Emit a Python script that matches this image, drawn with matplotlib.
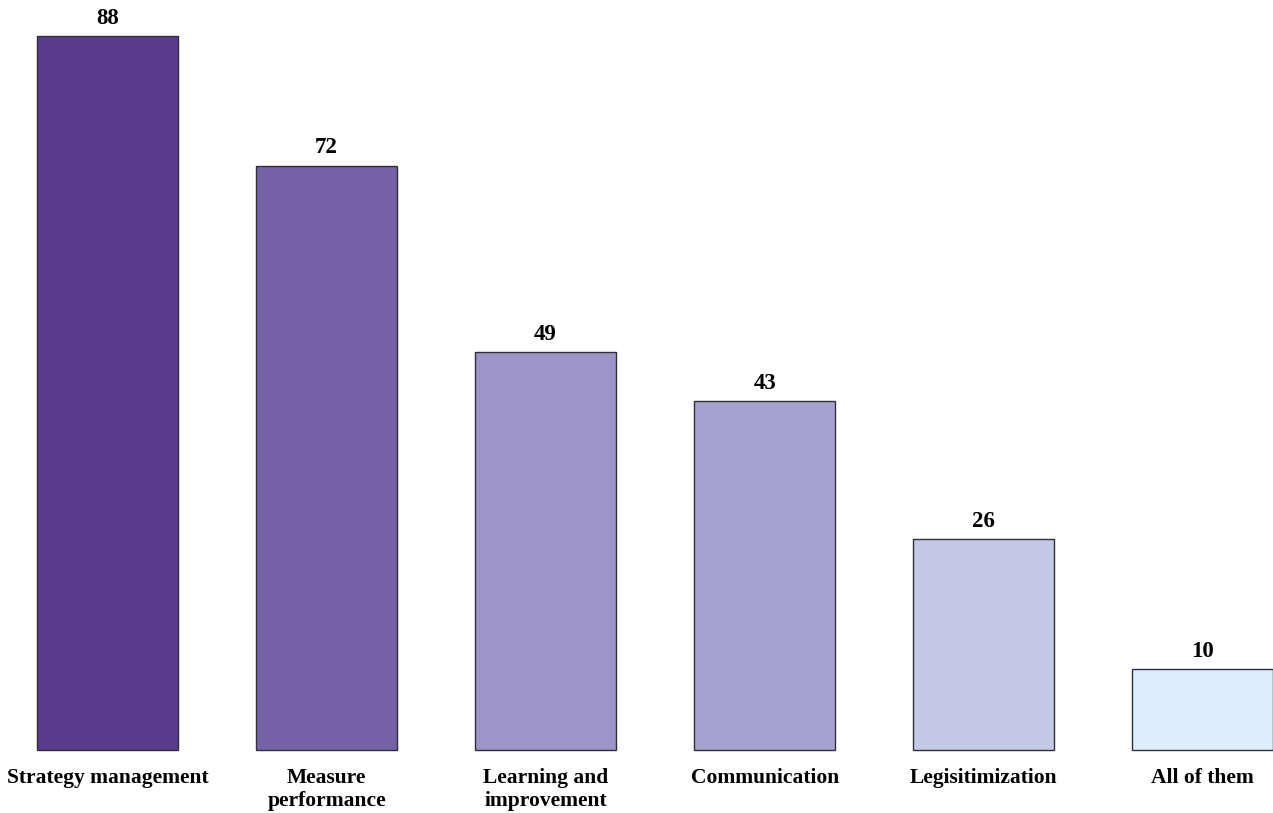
import matplotlib
matplotlib.use("Agg")
import matplotlib.pyplot as plt

categories = ["Strategy management", "Measure\nperformance", "Learning and\nimprovement",
              "Communication", "Legisitimization", "All of them"]
values = [88, 72, 49, 43, 26, 10]
colors = ["#5a3b8e", "#7561a5", "#9c95c8", "#a7a3d0", "#c4cae6", "#ddedfd"]

plt.rcParams['font.family'] = ['Liberation Serif', 'DejaVu Serif']

W, H = 1273, 813
fig = plt.figure(figsize=(W / 100, H / 100), dpi=100)
ax = fig.add_axes([0, 63 / H, 1, 750 / H])

x = list(range(len(categories)))
bw = 0.644
ax.bar(x, values, width=bw, color=colors, edgecolor="#2f2f3a", linewidth=1.0, clip_on=False)
for xi, v in zip(x, values):
    ax.text(xi, v + 0.9, str(v), ha="center", va="bottom", fontsize=16.5, fontweight="bold")

ax.set_xlim(-0.322 - 37 / 219, 0.322 + 5 - 0.001)
ax.set_ylim(0, 750 / 8.114)
ax.set_xticks(x)
ax.set_xticklabels(categories, fontsize=15.5, fontweight="bold", linespacing=1.2)
ax.tick_params(axis="x", length=0, pad=13)
ax.set_yticks([])
for s in ax.spines.values():
    s.set_visible(False)

fig.savefig("out.png", dpi=100)
